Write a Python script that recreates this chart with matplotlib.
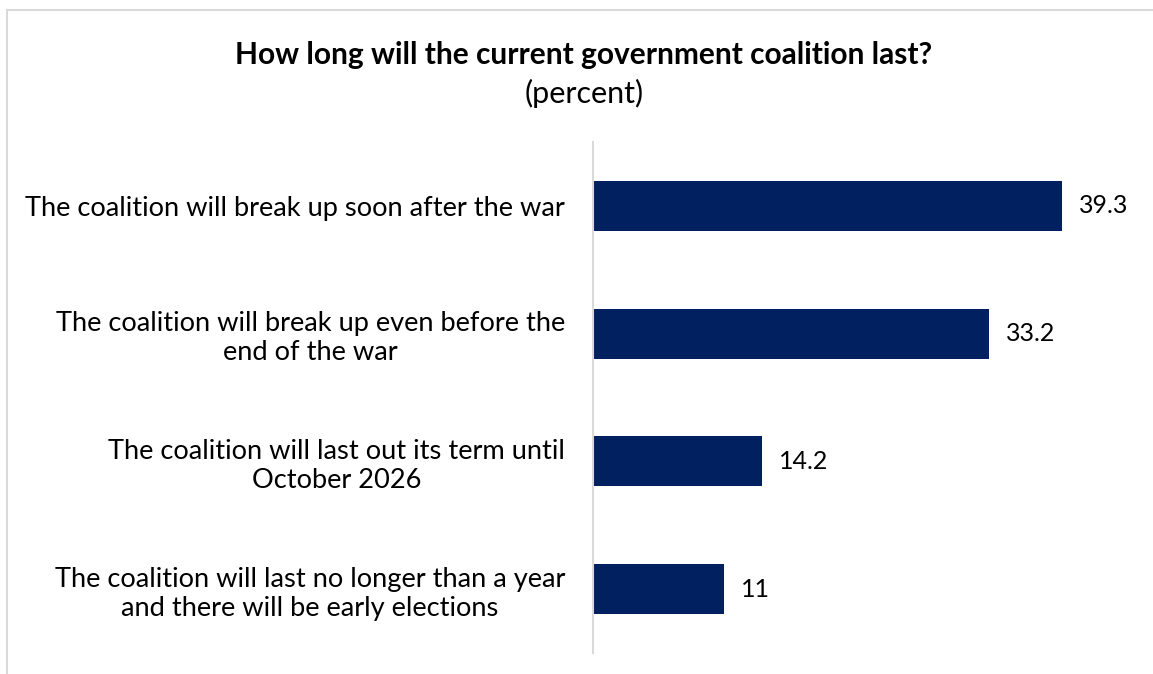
import matplotlib.pyplot as plt
from matplotlib.patches import Rectangle

plt.rcParams['font.family'] = ['Lato', 'DejaVu Sans']

categories = [
    "The coalition will break up soon after the war",
    "The coalition will break up even before the\nend of the war",
    "The coalition will last out its term until\nOctober 2026",
    "The coalition will last no longer than a year\nand there will be early elections",
]
values = [39.3, 33.2, 14.2, 11]

title = "How long will the current government coalition last?"
subtitle = "(percent)"

fig = plt.figure(figsize=(11.53, 6.74), dpi=100)
ax = fig.add_axes([593 / 1153, 21 / 674, 537 / 1153, 511 / 674])

pos = list(range(len(values)))
ax.barh(pos, values, height=0.39, color="#002060")
ax.set_ylim(len(values) - 0.5, -0.5)
ax.set_xlim(0, 45)

for y, v in zip(pos, values):
    ax.text(v + 1.4, y, f"{v:g}", va="center", ha="left", fontsize=18, color="#000000")

ax.set_yticks(pos)
ax.set_yticklabels(categories, fontsize=19.6, ha="right", multialignment="center")
ax.tick_params(axis="y", length=0, pad=20)
ax.set_xticks([])
for s in ["top", "right", "bottom"]:
    ax.spines[s].set_visible(False)
ax.spines["left"].set_color("#d9d9d9")
ax.spines["left"].set_linewidth(1.5)

fig.text(584 / 1153, 1 - 55 / 674, title, ha="center", va="center",
         fontsize=21.5, fontweight="bold")
fig.text(584 / 1153, 1 - 93 / 674, subtitle, ha="center", va="center", fontsize=22)

# light frame around the chart area
fig.patches.append(Rectangle((7 / 1153, -0.1), 1.2, 1 - 10 / 674 + 0.1,
                             transform=fig.transFigure, fill=False,
                             edgecolor="#d9d9d9", linewidth=1.5))

fig.savefig("out.png", dpi=100)
